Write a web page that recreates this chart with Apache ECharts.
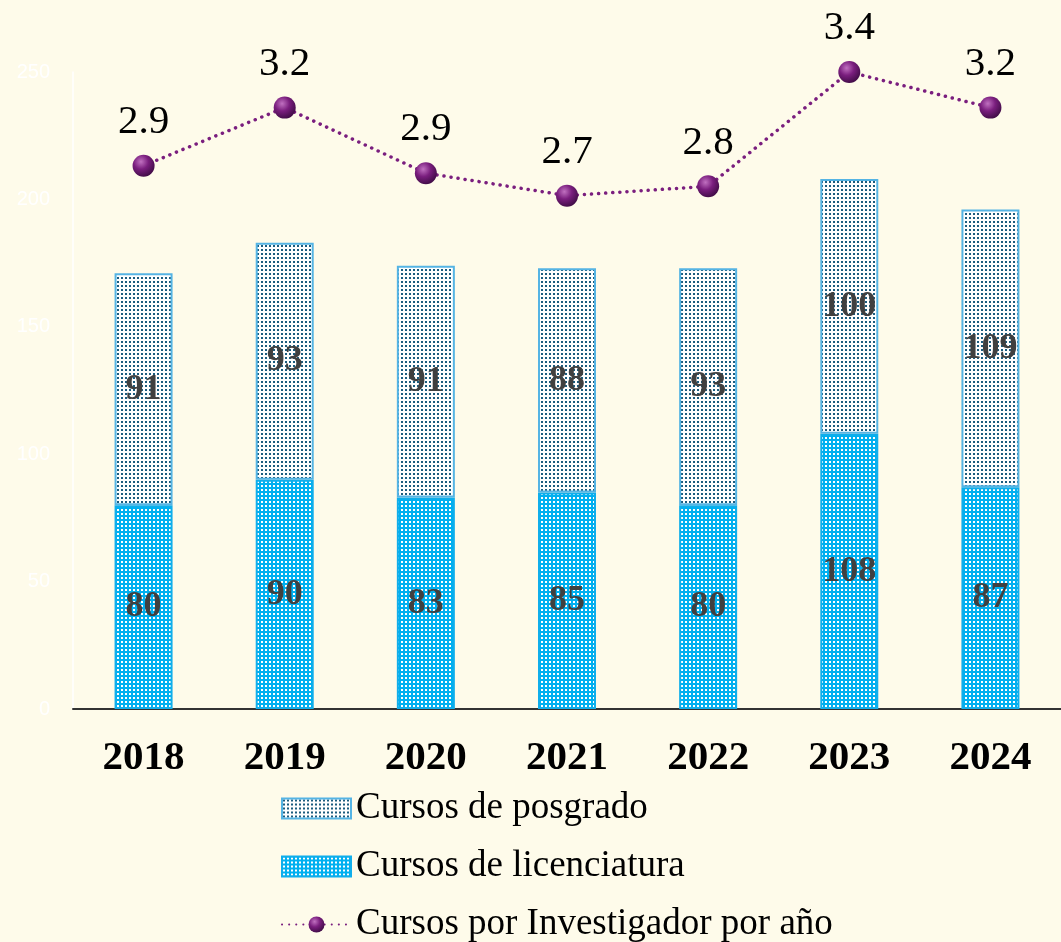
<!DOCTYPE html>
<html>
<head>
<meta charset="utf-8">
<script src="https://cdn.jsdelivr.net/npm/echarts@6/dist/echarts.min.js"></script>
<style>
html,body{margin:0;padding:0;background:#FEFBEA;}
#chart{width:1061px;height:942px;}
</style>
</head>
<body>
<div id="chart"></div>
<script>
const years = ['2018','2019','2020','2021','2022','2023','2024'];
const licenciatura = [80, 90, 83, 85, 80, 108, 87];
const posgrado = [91, 93, 91, 88, 93, 100, 109];
const cursosPorInvestigador = [2.9, 3.21, 2.86, 2.74, 2.79, 3.4, 3.21];
const yTicks = [0, 50, 100, 150, 200, 250];

function makePattern(bg, dot) {
  const c = document.createElement('canvas');
  c.width = 4; c.height = 4;
  const ctx = c.getContext('2d');
  ctx.fillStyle = bg; ctx.fillRect(0, 0, 4, 4);
  ctx.fillStyle = dot; ctx.fillRect(1, 1, 2, 2);
  return c;
}
const posPattern = { image: makePattern('#FFFFFF', '#1B5C7E'), repeat: 'repeat' };
const licPattern = { image: makePattern('#00B0F0', '#FFFFFF'), repeat: 'repeat' };

const sphere = {
  type: 'radial', x: 0.38, y: 0.32, r: 0.75,
  colorStops: [
    { offset: 0, color: '#C070C0' },
    { offset: 0.45, color: '#7A1E7E' },
    { offset: 1, color: '#3A0A40' }
  ]
};

const chart = echarts.init(document.getElementById('chart'));
chart.setOption({
  backgroundColor: '#FEFBEA',
  animation: false,
  grid: { left: 73, right: -6, top: 72, bottom: 233, containLabel: false },
  legend: {
    orient: 'vertical',
    left: 281,
    top: 790,
    height: 200,
    padding: 0,
    itemWidth: 69,
    itemHeight: 20,
    itemGap: 21,
    textStyle: { fontFamily: 'Liberation Serif', fontSize: 37, color: '#000' },
    data: [
      { name: 'Cursos de posgrado', icon: 'rect' },
      { name: 'Cursos de licenciatura', icon: 'rect' },
      { name: 'Cursos por Investigador por año' }
    ]
  },
  xAxis: {
    type: 'category',
    data: years,
    axisLine: { lineStyle: { color: '#333', width: 2 } },
    axisTick: { show: false },
    axisLabel: { fontFamily: 'Liberation Serif', fontWeight: 'bold', fontSize: 41, color: '#000', margin: 29 }
  },
  yAxis: [{
    type: 'value',
    min: yTicks[0],
    max: yTicks[yTicks.length - 1],
    interval: 50,
    splitLine: { show: false },
    axisLine: { show: true, lineStyle: { color: '#FFFFFF', width: 1.5 } },
    axisTick: { show: false },
    axisLabel: { color: '#FFFFFF', fontFamily: 'Liberation Sans', fontSize: 20, margin: 23 }
  }, {
    type: 'value',
    min: 0,
    max: 3.4,
    show: false,
    splitLine: { show: false }
  }],
  series: [{
    name: 'Cursos de licenciatura',
    type: 'bar',
    stack: 'total',
    barWidth: 58,
    data: licenciatura,
    itemStyle: { color: licPattern, borderColor: '#10AEEB', borderWidth: 2 },
    label: { show: true, position: 'inside', fontFamily: 'Liberation Serif', fontWeight: 'bold', fontSize: 36, color: '#404040' }
  }, {
    name: 'Cursos de posgrado',
    type: 'bar',
    stack: 'total',
    barWidth: 58,
    data: posgrado,
    itemStyle: { color: posPattern, borderColor: '#55B4E4', borderWidth: 2 },
    label: { show: true, position: 'inside', fontFamily: 'Liberation Serif', fontWeight: 'bold', fontSize: 36, color: '#404040' }
  }, {
    name: 'Cursos por Investigador por año',
    type: 'line',
    yAxisIndex: 1,
    data: cursosPorInvestigador,
    symbol: 'circle',
    symbolSize: 22,
    itemStyle: { color: sphere, borderWidth: 0 },
    lineStyle: { color: '#7A1E7E', width: 3.5, type: [0.1, 7], cap: 'round' },
    label: {
      show: true, position: 'top', distance: 12,
      fontFamily: 'Liberation Serif', fontSize: 41, color: '#000',
      formatter: p => p.value.toFixed(1)
    },
    z: 5
  }]
});
</script>
</body>
</html>
